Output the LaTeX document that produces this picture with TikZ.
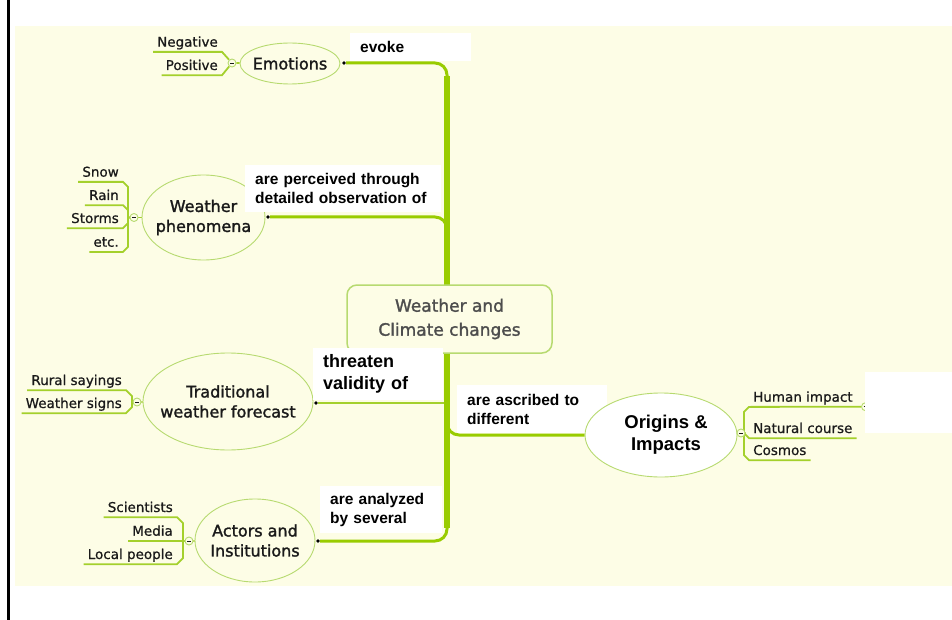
\documentclass[tikz,border=0pt]{standalone}
\usepackage{fontspec}
\setmainfont{DejaVu Sans}
\newfontfamily\topicfont[FakeBold=1.6]{DejaVu Sans}
\newfontfamily\subfont[FakeBold=0.7]{DejaVu Sans}
\newfontfamily\lblfont{Liberation Sans}
\usetikzlibrary{positioning,shapes.geometric,backgrounds}
\definecolor{ink}{HTML}{1A1A1A}
\definecolor{muted}{HTML}{4D4D4D}
\definecolor{paper}{HTML}{FDFDE6}
\definecolor{trunk}{HTML}{99CC00}
\definecolor{twig}{HTML}{A4D02C}
\definecolor{rim}{HTML}{B7DA70}

\begin{document}
\begin{tikzpicture}[
  x=1pt, y=-1pt,
  root/.style    = {rectangle, rounded corners=10pt, draw=rim, line width=1.5pt, fill=paper,
                    align=center, text=muted, minimum width=205pt, minimum height=68pt,
                    font=\topicfont\fontsize{17}{24}\selectfont},
  topic/.style   = {ellipse, draw=rim, line width=0.9pt, fill=paper, inner sep=0pt},
  topictext/.style = {align=center, inner sep=0pt, text=ink, font=\topicfont\fontsize{16}{20}\selectfont},
  sub/.style     = {inner xsep=4pt, inner ysep=1.7pt, text depth=3.3pt, text=ink,
                    font=\subfont\fontsize{13.5}{16}\selectfont},
  lbl/.style     = {fill=white, anchor=north west, align=left, inner xsep=10pt, inner ysep=0pt,
                    text=black, font=\lblfont\bfseries\fontsize{15.5}{19}\selectfont},
  fold/.style    = {circle, draw=rim, fill=paper, line width=0.9pt, minimum size=8pt, inner sep=0pt,
                    path picture={\draw[ink, line width=0.6pt]
                      ([xshift=-1.8pt]path picture bounding box.center) --
                      ([xshift=1.8pt]path picture bounding box.center);}},
  dot/.style     = {circle, fill=black, minimum size=3.6pt, inner sep=0pt},
  branch/.style  = {draw=trunk, line width=3pt, rounded corners=12pt},
  trunkline/.style = {draw=trunk, line width=6.5pt},
  twigline/.style  = {draw=twig, line width=1.2pt},
  subline/.style = {draw=twig, line width=1.8pt},
]
\useasboundingbox (0,0) rectangle (952,620);

% ---------- canvas ----------
\begin{scope}[on background layer]
  \fill[paper] (15,26) rectangle (952,586);
  \draw[black, line width=3pt] (8,0) -- (8,620);
\end{scope}

% ---------- centre ----------
\node[root] (root) at (449.5,319) {Weather and\\Climate changes};

% ---------- topics ----------
\node[topic, minimum width=100pt, minimum height=41pt] (emo) at (290,63.5) {};
\node[topictext] (emo-t) at (emo) {Emotions};
\node[topic, minimum width=123pt, minimum height=85pt] (wph) at (203.5,217.5) {};
\node[topictext] (wph-t) at (wph) {Weather\\phenomena};
\node[topic, minimum width=170pt, minimum height=97pt] (twf) at (228,401.5) {};
\node[topictext] (twf-t) at (twf) {Traditional\\weather forecast};
\node[topic, minimum width=120pt, minimum height=83pt] (act) at (255,540.5) {};
\node[topictext] (act-t) at (act) {Actors and\\Institutions};

% ---------- link labels ----------
\node[lbl, text width=101pt, minimum height=28pt] (evoke) at (350,33) {evoke};
\node[lbl, text width=176pt, minimum height=47pt] (perceive) at (245,165)
  {are perceived through\\detailed observation of};
\node[lbl, text width=110pt, minimum height=52pt, font=\lblfont\bfseries\fontsize{18}{22}\selectfont]
  (threaten) at (313,348) {threaten\\validity of};
\node[lbl, text width=130pt, minimum height=48pt] (ascribe) at (457,385) {are ascribed to\\different};
\node[lbl, text width=102pt, minimum height=47pt] (analyze) at (320,486) {are analyzed\\by several};

\node[topic, fill=white, minimum width=152pt, minimum height=84pt] (ori) at (661,435) {};
\node[topictext, text=black, font=\lblfont\bfseries\fontsize{18.5}{22}\selectfont]
  (ori-t) at ([xshift=5pt]ori.center) {Origins \&\\Impacts};

% ---------- branch ends ----------
\node[dot] (emod) at (344,63) {};
\node[dot] (wphd) at (268,217) {};
\node[dot] (twfd) at (316,403) {};
\node[dot] (actd) at (318,541) {};

\coordinate (ttop) at (447,76);
\coordinate (tbot) at (447,528);
\coordinate (tk-emo) at (447,110);
\coordinate (tk-wph) at (447,250);
\coordinate (tk-twf) at (447,403);
\coordinate (tk-ori) at (447,400);
\coordinate (tk-act) at (447,500);

% ---------- folds ----------
\node[fold] (emoc) at (232,63) {};
\node[fold] (wphc) at (134,217.5) {};
\node[fold] (twfc) at (137,402) {};
\node[fold] (actc) at (189,541) {};
\node[fold] (oric) at (741,433) {};
\node[fold] (humc) at (865.5,406.7) {};

% ---------- subtopics ----------
\node[sub, anchor=base east] (neg) at (222,46.7) {Negative};
\node[sub, anchor=base east] (pos) at (222,70) {Positive};
\node[sub, anchor=base east] (snow) at (123,176.7) {Snow};
\node[sub, anchor=base east] (rain) at (123,200) {Rain};
\node[sub, anchor=base east] (storm) at (123,223) {Storms};
\node[sub, anchor=base east] (etc) at (123,246.7) {etc.};
\node[sub, anchor=base east] (rural) at (126,385) {Rural sayings};
\node[sub, anchor=base east] (signs) at (126,408) {Weather signs};
\node[sub, anchor=base east] (sci) at (177,512) {Scientists};
\node[sub, anchor=base east] (media) at (177,535.7) {Media};
\node[sub, anchor=base east] (local) at (177,559) {Local people};
\node[sub, anchor=base west] (human) at (749,401.7) {Human impact};
\node[sub, anchor=base west] (nat) at (749,433) {Natural course};
\node[sub, anchor=base west] (cosmos) at (749,455) {Cosmos};

\node[fill=white, anchor=north west, minimum width=87pt, minimum height=61pt, inner sep=0pt]
  (blank) at (865,372) {};

% ---------- connectors ----------
\begin{scope}[on background layer]
  \draw[branch] (emod) -| (tk-emo);
  \draw[branch] (wphd) -| (tk-wph);
  \draw[twigline] (twfd) -- (tk-twf);
  \draw[branch] (tk-ori) |- (ori);
  \draw[branch] (actd) -| (tk-act);
  \draw[trunkline] (ttop) -- (tbot);

  \draw[subline] (neg.south west) -- (neg.south east) -- (emoc);
  \draw[subline] (pos.south west) -- (pos.south east) -- (emoc);
  \draw[subline] (emoc) -- (emo);

  \draw[subline] (snow.south west) -- (snow.south east) -- ++(5,5) |- (wphc);
  \draw[subline] (rain.south west) -- (rain.south east) -- ++(5,5) |- (wphc);
  \draw[subline] (storm.south west) -- (storm.south east) -- ++(5,-5) |- (wphc);
  \draw[subline] (etc.south west) -- (etc.south east) -- ++(5,-5) |- (wphc);
  \draw[subline] (wphc) -- (wph);

  \draw[subline] (rural.south west) -- (rural.south east) -- ++(6,6) |- (twfc);
  \draw[subline] (signs.south west) -- (signs.south east) -- ++(6,-6) |- (twfc);
  \draw[subline] (twfc) -- (twf);

  \draw[subline] (sci.south west) -- (sci.south east) -- ++(6,6) |- (actc);
  \draw[subline] (media.south west) -- (actc);
  \draw[subline] (local.south west) -- (local.south east) -- ++(6,-6) |- (actc);
  \draw[subline] (actc) -- (act);

  \draw[subline] (humc) -- (human.south west) -- ++(-5,5) |- (oric);
  \draw[subline] (nat.south east) -- (nat.south west) -- ++(-5,-5) |- (oric);
  \draw[subline] (cosmos.south east) -- (cosmos.south west) -- ++(-5,-5) |- (oric);
  \draw[subline] (oric) -- (ori);
\end{scope}

\end{tikzpicture}
\end{document}
